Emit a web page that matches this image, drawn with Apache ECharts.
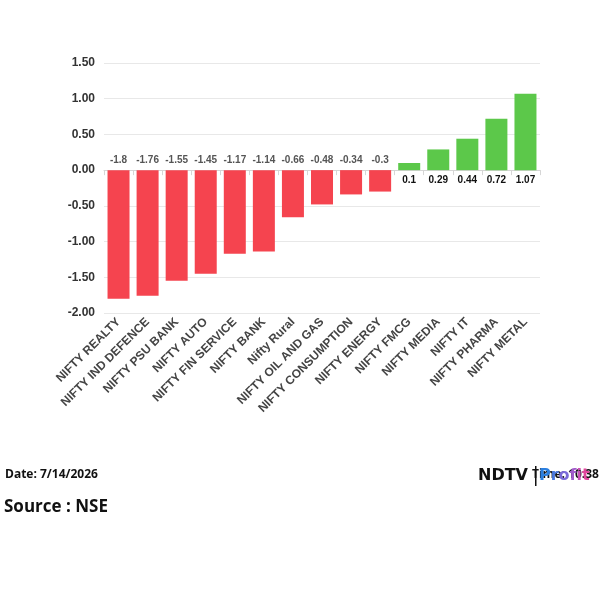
<!DOCTYPE html>
<html>
<head>
<meta charset="utf-8">
<script src="https://cdn.jsdelivr.net/npm/echarts@6/dist/echarts.min.js"></script>
<style>
  html, body { margin: 0; padding: 0; background: #fff; }
  #chart { width: 600px; height: 600px; }
</style>
</head>
<body>
<div id="chart"></div>
<script>
const categories = ['NIFTY REALTY', 'NIFTY IND DEFENCE', 'NIFTY PSU BANK', 'NIFTY AUTO', 'NIFTY FIN SERVICE',
  'NIFTY BANK', 'Nifty Rural', 'NIFTY OIL AND GAS', 'NIFTY CONSUMPTION', 'NIFTY ENERGY',
  'NIFTY FMCG', 'NIFTY MEDIA', 'NIFTY IT', 'NIFTY PHARMA', 'NIFTY METAL']
const changes = [-1.8, -1.76, -1.55, -1.45, -1.17, -1.14, -0.66, -0.48, -0.34, -0.3, 0.1, 0.29, 0.44, 0.72, 1.07]
const yTicks = [-2, -1.5, -1, -0.5, 0, 0.5, 1, 1.5]

const red = '#f5444f'
const green = '#5cc84a'

const logoFont = 'bold 16px "DejaVu Sans", Arial'
const profitColors = ['#2b7fe0', '#4a78de', '#7a6ad8', '#a25ccc', '#c850b5', '#e0489c']
const profitRich = {}
profitColors.forEach((c, i) => { profitRich['c' + i] = { fill: c, font: logoFont } })

const chart = echarts.init(document.getElementById('chart'))
chart.setOption({
  backgroundColor: '#fff',
  animation: false,
  grid: { left: 104, right: 60, top: 63, bottom: 287, containLabel: false },
  xAxis: {
    type: 'category',
    data: categories,
    axisLine: { lineStyle: { color: '#d6d6d6' } },
    axisTick: { show: true, length: 5, lineStyle: { color: '#d6d6d6' } },
    axisLabel: {
      rotate: 45, interval: 0, margin: 7,
      color: '#444', fontSize: 12, fontWeight: 'bold', fontFamily: 'Liberation Sans, Arial'
    }
  },
  yAxis: {
    type: 'value',
    min: yTicks[0],
    max: yTicks[yTicks.length - 1],
    interval: 0.5,
    axisLine: { show: false },
    axisTick: { show: false },
    splitLine: { lineStyle: { color: '#e8e8e8' } },
    axisLabel: {
      margin: 9,
      color: '#333', fontSize: 12, fontWeight: 'bold', fontFamily: 'Liberation Sans, Arial',
      formatter: v => v.toFixed(2)
    }
  },
  series: [{
    type: 'bar',
    barWidth: 22,
    data: changes.map(v => ({
      value: v,
      itemStyle: { color: v < 0 ? red : green },
      label: {
        show: true,
        position: v < 0 ? 'top' : 'bottom',
        distance: 5,
        color: v < 0 ? '#555' : '#111',
        fontSize: 10,
        fontWeight: 'bold',
        fontFamily: 'Liberation Sans, Arial',
        formatter: String(v)
      }
    }))
  }],
  graphic: [
    {
      type: 'text', left: 5, top: 469,
      style: { text: 'Date: 7/14/2026', fill: '#111', font: 'bold 12px "Open Sans", "Liberation Sans", Arial' }
    },
    {
      type: 'text', left: 4, top: 499,
      style: { text: 'Source : NSE', fill: '#111', font: 'bold 17px "Open Sans", "Liberation Sans", Arial' }
    },
    {
      type: 'text', left: 532, top: 469,
      style: { text: 'Time: 10:38', fill: '#111', font: 'bold 12px "Open Sans", "Liberation Sans", Arial' }
    },
    {
      type: 'text', left: 478, top: 468,
      style: { text: 'NDTV', fill: '#111', font: '900 16px "DejaVu Sans", Arial' }
    },
    {
      type: 'rect', shape: { x: 535, y: 466, width: 1.5, height: 20 },
      style: { fill: '#111' }
    },
    {
      type: 'text', left: 539, top: 468,
      style: {
        text: 'Profit'.split('').map((ch, i) => '{c' + i + '|' + ch + '}').join(''),
        font: logoFont,
        fill: '#2b7fe0',
        rich: profitRich
      }
    }
  ]
})
</script>
</body>
</html>
